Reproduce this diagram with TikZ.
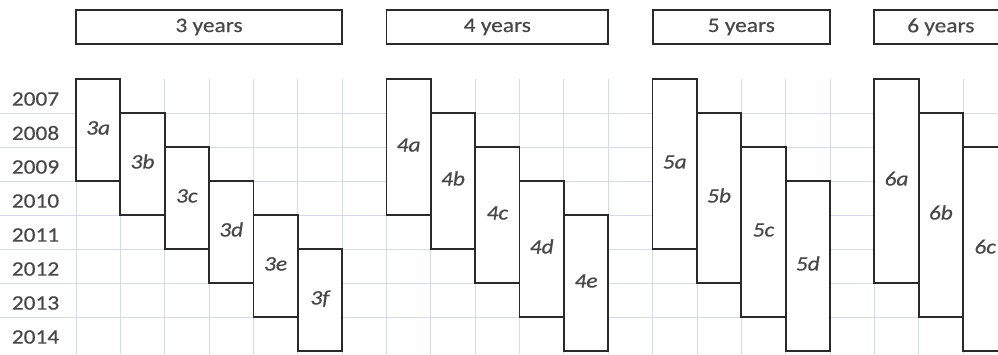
\documentclass[tikz,border=0pt]{standalone}
\usepackage{fontspec}
\setmainfont{Carlito}[FakeStretch=1.14,FakeBold=0.5]
\definecolor{gridc}{HTML}{D6DAE8}
\definecolor{linec}{HTML}{2A2A2A}
\definecolor{txtc}{HTML}{484848}
\begin{document}
\begin{tikzpicture}[x=1pt,y=-1pt,
  gridline/.style={draw=gridc, line width=0.8pt},
  period/.style={draw=linec, line width=1.8pt, fill=white, minimum width=44.35pt,
    inner sep=0pt, text=txtc, text height=10pt, text depth=1pt,
    font=\fontsize{20.5}{24}\selectfont\itshape},
  header/.style={draw=linec, line width=1.8pt, fill=white, minimum height=34pt,
    inner sep=0pt, text=txtc, font=\fontsize{20.5}{24}\selectfont},
  yearlab/.style={text=txtc, inner sep=0pt, font=\fontsize{20.5}{24}\selectfont}]
\useasboundingbox (0,0) rectangle (998,354);
\clip (0,0) rectangle (998,354);
% grid
\foreach \j in {0,...,6} {
  \draw[gridline] (0,{113+34*\j}) -- (998,{113+34*\j});
}
\foreach \k in {0,...,21} {
  \draw[gridline] ({76+44.35*\k},79) -- ({76+44.35*\k},354);
}
% headers
\node[header, minimum width=266.1pt] (h3) at (209.05,27) {3 years};
\node[header, minimum width=221.75pt] (h4) at (497.3,27) {4 years};
\node[header, minimum width=177.4pt] (h5) at (741.3,27) {5 years};
\node[header, minimum width=133pt] (h6) at (940.8,27) {6 years};
% year labels
\foreach \yr [count=\i from 0] in {2007,2008,2009,2010,2011,2012,2013,2014} {
  \node[yearlab] (y\yr) at (35.5,{99+34*\i}) {\yr};
}
% period boxes
\foreach \n/\s/\letters in {3/0/{a,b,c,d,e,f},4/7/{a,b,c,d,e},5/13/{a,b,c,d},6/18/{a,b,c}} {
  \foreach \l [count=\i from 0] in \letters {
    \pgfmathsetmacro{\h}{34*\n}
    \pgfmathsetmacro{\cx}{76+44.35*(\s+\i+0.5)}
    \pgfmathsetmacro{\cy}{79+34*\i+17*\n}
    \node[period, minimum height=\h pt] (b\n\l) at (\cx,\cy) {\n\l};
  }
}
\end{tikzpicture}
\end{document}
